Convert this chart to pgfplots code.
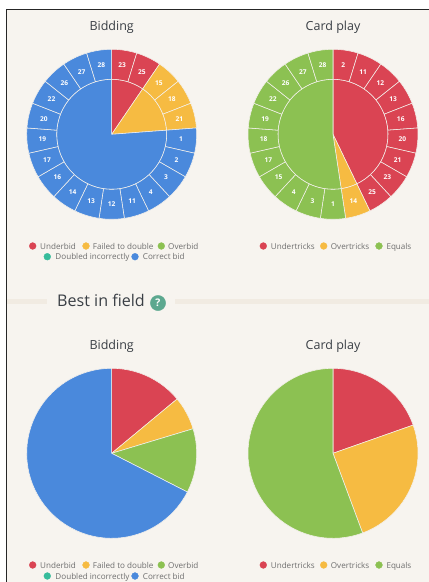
\documentclass[border=0pt]{standalone}
\usepackage{pgfplots}
\pgfplotsset{compat=1.18}
\usepgfplotslibrary{polar}
\usepackage{fontspec}
\setmainfont{Open Sans}
\definecolor{bgc}{HTML}{F7F4EF}
\definecolor{band}{HTML}{F1EBE2}
\definecolor{cred}{HTML}{DA4453}
\definecolor{cyel}{HTML}{F6BB42}
\definecolor{cgrn}{HTML}{8CC152}
\definecolor{cmnt}{HTML}{37BC9B}
\definecolor{cblu}{HTML}{4A89DC}
\definecolor{ctxt}{HTML}{3A3F45}
\definecolor{cleg}{HTML}{6E6E6E}
\definecolor{chelp}{HTML}{5CA88F}
\definecolor{csep}{HTML}{F4F1EC}
% slice: colour, from, to (clockwise degrees from the top), inner radius, outer radius
\newcommand{\slice}[5]{%
  \pgfmathsetmacro\sA{90-#2}\pgfmathsetmacro\sB{90-#3}%
  \pgfmathtruncatemacro\sN{max(2,ceil((#3-#2)/4))}%
  \pgfmathsetmacro\sS{(\sB-\sA)/\sN}%
  \gdef\scoords{}%
  \foreach \k in {0,...,\sN}{\pgfmathsetmacro\t{\sA+\sS*\k}\xdef\scoords{\scoords(\t,#5)}}%
  \ifdim #4pt>0pt
    \foreach \k in {\sN,...,0}{\pgfmathsetmacro\t{\sA+\sS*\k}\xdef\scoords{\scoords(\t,#4)}}%
  \else
    \xdef\scoords{\scoords(0,0)}%
  \fi
  \edef\temp{\noexpand\addplot[fill=#1,draw=csep,line width=0.55pt,line join=round] coordinates {\scoords} -- cycle;}\temp
}
% ring of 21 boards
\newcommand{\ring}[1]{%
  \foreach \lab/\col [count=\i from 0] in {#1}{%
    \pgfmathsetmacro\ca{\i*360/21}\pgfmathsetmacro\cb{(\i+1)*360/21}%
    \slice{\col}{\ca}{\cb}{55}{85}%
    \pgfmathsetmacro\cm{90-(\i+0.5)*360/21}%
    \edef\temp{\noexpand\node[cellab] at (axis cs:\cm,69.5) {\lab};}\temp
  }%
}
\newcommand{\legs}[2]{%
  \node[leg] at (axis cs:40,#1) {Underbid};
  \node[leg] at (axis cs:92.7,#1) {Failed to double};
  \node[leg] at (axis cs:168,#1) {Overbid};
  \node[leg] at (axis cs:55.3,#2) {Doubled incorrectly};
  \node[leg] at (axis cs:142.7,#2) {Correct bid};
  \node[leg] at (axis cs:270.7,#1) {Undertricks};
  \node[leg] at (axis cs:330.7,#1) {Overtricks};
  \node[leg] at (axis cs:386.3,#1) {Equals};
}
\pgfplotsset{pie/.style={
  scale only axis,width=170pt,height=170pt,
  xmin=-270,xmax=90,ymin=0,ymax=85,
  hide axis,clip=false,anchor=center,
  xtick=\empty,ytick=\empty}}
\tikzset{cellab/.style={font=\fontsize{6.6}{7}\selectfont\bfseries,text=white,inner sep=0pt},
  ttl/.style={font=\fontsize{12.5}{14}\selectfont,text=ctxt,anchor=base,inner sep=0pt},
  leg/.style={font=\fontsize{8.1}{9}\selectfont,text=cleg,anchor=base west,inner sep=0pt}}
\begin{document}
\begin{tikzpicture}[x=1pt,y=1pt]
\useasboundingbox (0,0) rectangle (429,582);
\begin{axis}[at={(0,0)},anchor=south west,scale only axis,width=429pt,height=582pt,
  xmin=0,xmax=429,ymin=0,ymax=582,y dir=reverse,hide axis,clip=false]
\fill[white] (axis cs:0,0) rectangle (axis cs:429,582);
\fill[bgc] (axis cs:6,9) rectangle (axis cs:429,582);
\fill[black!85] (axis cs:6,9) rectangle (axis cs:429,10);
\fill[black!85] (axis cs:6,9) rectangle (axis cs:7,582);
\fill[band] (axis cs:7,298.5) rectangle (axis cs:47,304);
\fill[band] (axis cs:175,298.5) rectangle (axis cs:429,304);
% legend markers
\addplot[only marks,mark=*,mark size=3.4pt,color=cred] coordinates {(32.7,246)(32.7,565)(263.3,246)(263.3,565)};
\addplot[only marks,mark=*,mark size=3.4pt,color=cyel] coordinates {(86,246)(86,565)(323.7,246)(323.7,565)};
\addplot[only marks,mark=*,mark size=3.4pt,color=cgrn] coordinates {(161.3,246)(161.3,565)(379,246)(379,565)};
\addplot[only marks,mark=*,mark size=3.4pt,color=cmnt] coordinates {(47.3,256.7)(47.3,576)};
\addplot[only marks,mark=*,mark size=3.4pt,color=cblu] coordinates {(135,256.7)(135,576)};
\addplot[only marks,mark=*,mark size=7.6pt,color=chelp] coordinates {(158,303)};
% titles
\node[ttl] at (axis cs:111.7,30) {Bidding};
\node[ttl] at (axis cs:333,30) {Card play};
\node[ttl] at (axis cs:111.7,349) {Bidding};
\node[ttl] at (axis cs:333,349) {Card play};
\node[font=\fontsize{16.1}{20}\selectfont,text=ctxt,anchor=base west,inner sep=0pt] at (axis cs:57,306) {Best in field};
% legends
\legs{249}{259.7}
\legs{568}{579}
\end{axis}
\node[font=\fontsize{10.5}{12}\selectfont\bfseries,text=white,inner sep=0pt] at (158pt,279pt) {?};
% Bidding, ring
\begin{polaraxis}[pie,at={(111.7pt,447.7pt)}]
\slice{cred}{0}{34.29}{0}{55}
\slice{cyel}{34.29}{85.71}{0}{55}
\slice{cblu}{85.71}{360}{0}{55}
\ring{23/cred,25/cred,15/cyel,18/cyel,21/cyel,1/cblu,2/cblu,3/cblu,4/cblu,11/cblu,12/cblu,13/cblu,14/cblu,16/cblu,17/cblu,19/cblu,20/cblu,22/cblu,26/cblu,27/cblu,28/cblu}
\end{polaraxis}
% Card play, ring
\begin{polaraxis}[pie,at={(333pt,447.7pt)}]
\slice{cred}{0}{154.29}{0}{55}
\slice{cyel}{154.29}{171.43}{0}{55}
\slice{cgrn}{171.43}{360}{0}{55}
\ring{2/cred,11/cred,12/cred,13/cred,16/cred,20/cred,21/cred,23/cred,25/cred,14/cyel,1/cgrn,3/cgrn,4/cgrn,15/cgrn,17/cgrn,18/cgrn,19/cgrn,22/cgrn,26/cgrn,27/cgrn,28/cgrn}
\end{polaraxis}
% Best in field, Bidding
\begin{polaraxis}[pie,at={(111.7pt,128.7pt)}]
\slice{cred}{0}{50.3}{0}{85}
\slice{cyel}{50.3}{73.2}{0}{85}
\slice{cgrn}{73.2}{117.1}{0}{85}
\slice{cblu}{117.1}{360}{0}{85}
\end{polaraxis}
% Best in field, Card play
\begin{polaraxis}[pie,at={(333pt,128.7pt)}]
\slice{cred}{0}{70.6}{0}{85}
\slice{cyel}{70.6}{159.6}{0}{85}
\slice{cgrn}{159.6}{360}{0}{85}
\end{polaraxis}
\end{tikzpicture}
\end{document}
